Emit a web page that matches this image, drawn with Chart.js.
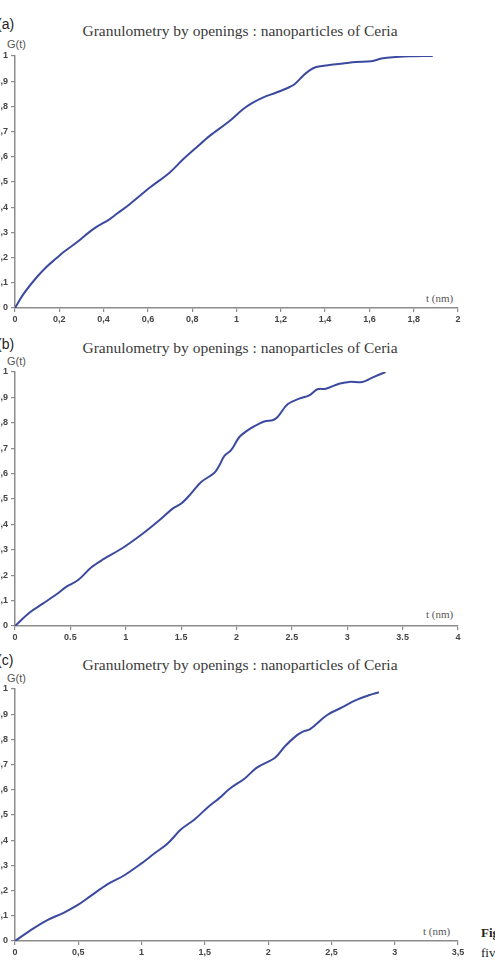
<!DOCTYPE html>
<html>
<head>
<meta charset="utf-8">
<script src="https://cdn.jsdelivr.net/npm/chart.js@4/dist/chart.umd.min.js"></script>
<style>
  body { margin: 0; background: #fff; width: 495px; height: 963px; overflow: hidden; position: relative; }
  canvas { position: absolute; left: -15px; }
  .txt { position: absolute; white-space: nowrap; color: #333; }
  .title { font-family: "Liberation Serif", serif; font-size: 15.5px; line-height: 20px; left: 0; width: 480px; text-align: center; color: #3a3a3a; }
  .tag { font-family: "Liberation Sans", sans-serif; font-size: 14px; line-height: 16px; left: -3px; color: #222; }
  .gt { font-family: "Liberation Sans", sans-serif; font-size: 11px; line-height: 12px; left: 7px; color: #555; }
  .tnm { font-family: "Liberation Serif", serif; font-size: 11px; line-height: 12px; color: #555; }
  .cap { font-family: "Liberation Serif", serif; font-size: 13px; line-height: 14px; left: 481px; color: #222; }
</style>
</head>
<body>

<div class="txt title" style="top:21px">Granulometry by openings : nanoparticles of Ceria</div>
<div class="txt tag" style="top:16px">(a)</div>
<div class="txt gt" style="top:38px">G(t)</div>
<div class="txt tnm" style="top:292px;left:426px">t (nm)</div>
<canvas id="chartA" width="493" height="284" style="top:46px"></canvas>

<div class="txt title" style="top:338px">Granulometry by openings : nanoparticles of Ceria</div>
<div class="txt tag" style="top:336px">(b)</div>
<div class="txt gt" style="top:355px">G(t)</div>
<div class="txt tnm" style="top:608px;left:426px">t (nm)</div>
<canvas id="chartB" width="493" height="286" style="top:362px"></canvas>

<div class="txt title" style="top:655px">Granulometry by openings : nanoparticles of Ceria</div>
<div class="txt tag" style="top:652px">(c)</div>
<div class="txt gt" style="top:672px">G(t)</div>
<div class="txt tnm" style="top:925px;left:423px">t (nm)</div>
<canvas id="chartC" width="493" height="284" style="top:679px"></canvas>

<div class="txt cap" style="top:926px;font-weight:bold">Fig</div>
<div class="txt cap" style="top:946px">fiv</div>

<script>
// panel (a)
const tA = [0, 0.038, 0.098, 0.143, 0.188, 0.218, 0.278, 0.353, 0.428, 0.458, 0.518, 0.609, 0.699, 0.759, 0.819, 0.879, 0.969, 1.029, 1.074, 1.119, 1.18, 1.24, 1.262, 1.3, 1.33, 1.36, 1.42, 1.48, 1.54, 1.608, 1.66, 1.72, 1.781, 1.886];
const gA = [0, 0.055, 0.122, 0.164, 0.198, 0.221, 0.26, 0.313, 0.353, 0.373, 0.412, 0.478, 0.538, 0.59, 0.637, 0.683, 0.742, 0.789, 0.815, 0.835, 0.855, 0.877, 0.888, 0.921, 0.943, 0.956, 0.964, 0.97, 0.976, 0.979, 0.991, 0.996, 0.999, 1.0];

// panel (b)
const tB = [0, 0.135, 0.255, 0.375, 0.465, 0.57, 0.69, 0.795, 0.975, 1.155, 1.306, 1.426, 1.501, 1.591, 1.681, 1.801, 1.846, 1.891, 1.951, 2.026, 2.116, 2.206, 2.266, 2.326, 2.371, 2.461, 2.566, 2.656, 2.731, 2.806, 2.926, 3.016, 3.136, 3.226, 3.346];
const gB = [0, 0.054, 0.089, 0.125, 0.155, 0.181, 0.231, 0.262, 0.308, 0.364, 0.417, 0.463, 0.482, 0.522, 0.567, 0.603, 0.633, 0.67, 0.692, 0.744, 0.775, 0.797, 0.807, 0.81, 0.823, 0.873, 0.895, 0.908, 0.932, 0.934, 0.954, 0.961, 0.961, 0.978, 1.0];

// panel (c)
const tC = [0, 0.146, 0.252, 0.384, 0.49, 0.596, 0.729, 0.861, 0.994, 1.1, 1.206, 1.312, 1.418, 1.524, 1.616, 1.696, 1.815, 1.908, 2.054, 2.133, 2.226, 2.279, 2.332, 2.464, 2.583, 2.689, 2.795, 2.875];
const gC = [0, 0.05, 0.082, 0.112, 0.141, 0.178, 0.225, 0.26, 0.306, 0.347, 0.387, 0.443, 0.482, 0.531, 0.568, 0.604, 0.645, 0.687, 0.727, 0.773, 0.816, 0.832, 0.841, 0.896, 0.927, 0.955, 0.975, 0.987];

const LINE_COLOR = '#3b4a9f';
const AXIS_COLOR = '#8c8c8c';

function fmt(v, sep) {
    return String(Math.round(v * 10) / 10).replace('.', sep);
}

function makeChart(id, ts, gs, xMax, xStep, xSep) {
    const points = ts.map((t, i) => ({ x: t, y: gs[i] }));

    const data = {
        datasets: [{
            data: points,
            borderColor: LINE_COLOR,
            borderWidth: 2,
            pointRadius: 0,
            tension: 0.35,
            showLine: true,
            fill: false
        }]
    };

    const tickFont = { family: 'Liberation Sans', size: 9, weight: 'bold' };

    const config = {
        type: 'scatter',
        data: data,
        options: {
            responsive: false,
            animation: false,
            devicePixelRatio: 1,
            layout: { padding: { top: 10, right: 20, bottom: 2, left: 0 } },
            plugins: {
                legend: { display: false },
                tooltip: { enabled: false }
            },
            scales: {
                x: {
                    type: 'linear',
                    min: 0,
                    max: xMax,
                    afterFit: (s) => { s.height = 20; },
                    border: { display: true, color: AXIS_COLOR, width: 1.5 },
                    grid: { drawOnChartArea: false, drawTicks: true, tickLength: 4, color: AXIS_COLOR, lineWidth: 1.2 },
                    ticks: {
                        stepSize: xStep,
                        autoSkip: false,
                        maxRotation: 0,
                        padding: 2,
                        color: '#444',
                        font: tickFont,
                        callback: (v) => fmt(v, xSep)
                    }
                },
                y: {
                    type: 'linear',
                    min: 0,
                    max: 1,
                    afterFit: (s) => { s.width = 30; },
                    border: { display: true, color: AXIS_COLOR, width: 1.5 },
                    grid: { drawOnChartArea: false, drawTicks: true, tickLength: 4, color: AXIS_COLOR, lineWidth: 1.2 },
                    ticks: {
                        stepSize: 0.1,
                        autoSkip: false,
                        padding: 3,
                        color: '#444',
                        font: tickFont,
                        callback: (v) => fmt(v, ',')
                    }
                }
            }
        }
    };

    return new Chart(document.getElementById(id), config);
}

const chartA = makeChart('chartA', tA, gA, 2, 0.2, ',');
const chartB = makeChart('chartB', tB, gB, 4, 0.5, '.');
const chartC = makeChart('chartC', tC, gC, 3.5, 0.5, ',');
</script>
</body>
</html>
